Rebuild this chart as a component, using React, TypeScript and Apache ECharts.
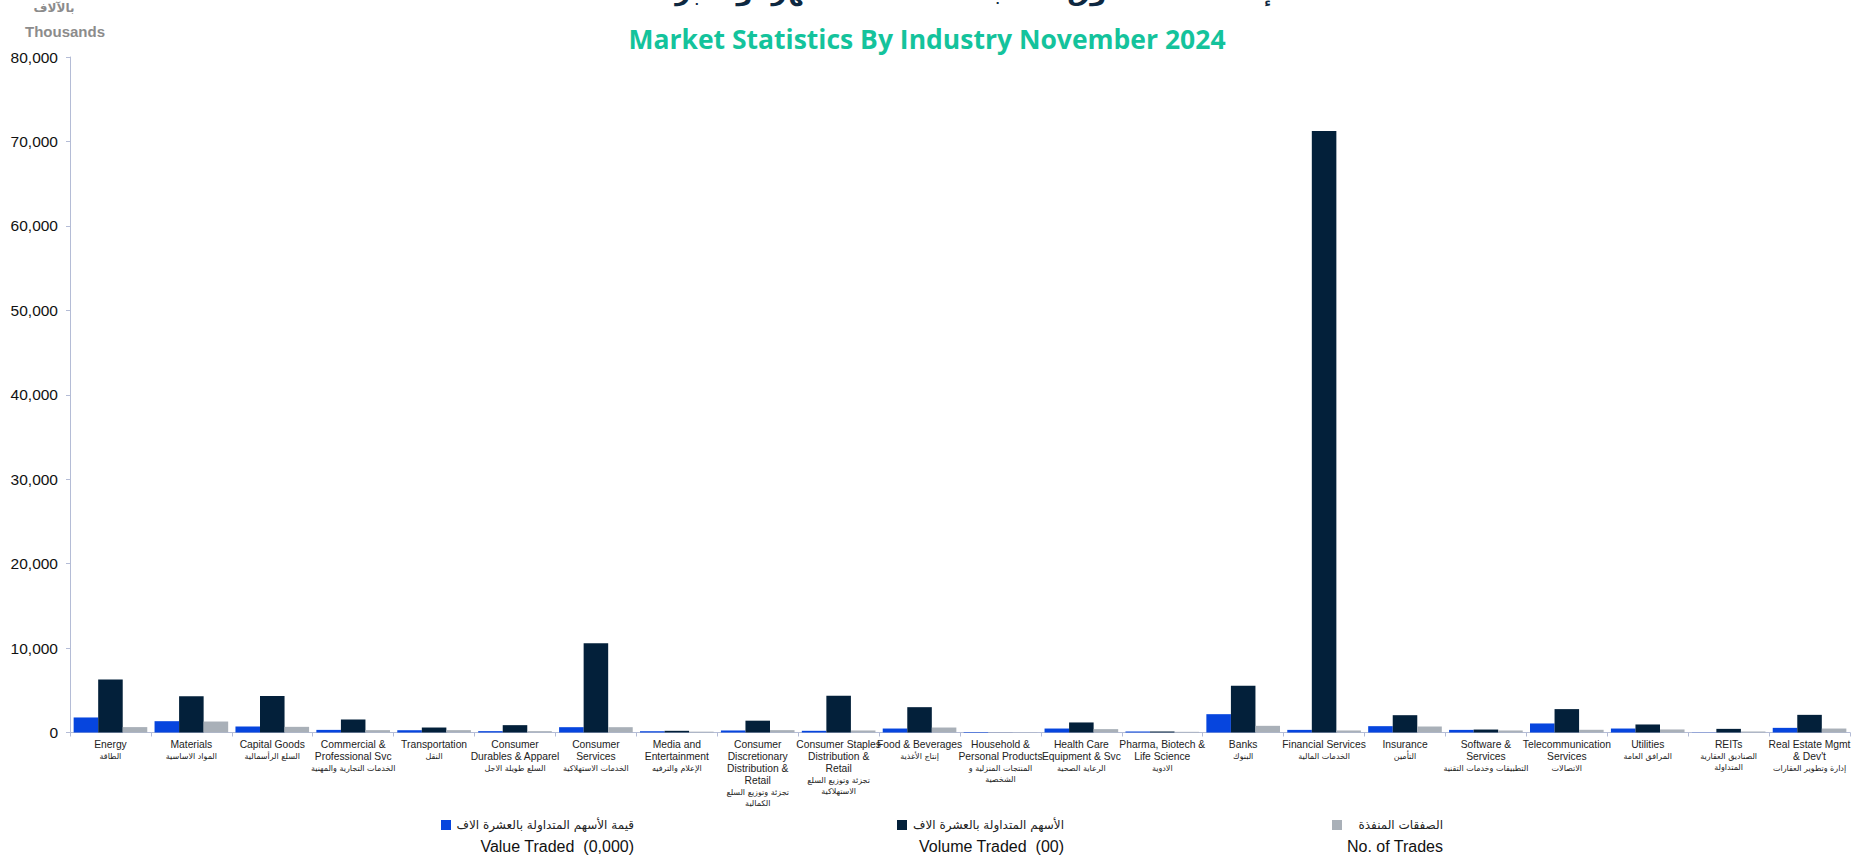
import React, { useEffect, useRef } from "react";
import * as echarts from "echarts";

const categoriesEn: string[] = [
  "Energy",
  "Materials",
  "Capital Goods",
  "Commercial &\nProfessional Svc",
  "Transportation",
  "Consumer\nDurables & Apparel",
  "Consumer\nServices",
  "Media and\nEntertainment",
  "Consumer\nDiscretionary\nDistribution &\nRetail",
  "Consumer Staples\nDistribution &\nRetail",
  "Food & Beverages",
  "Household &\nPersonal Products",
  "Health Care\nEquipment & Svc",
  "Pharma, Biotech &\nLife Science",
  "Banks",
  "Financial Services",
  "Insurance",
  "Software &\nServices",
  "Telecommunication\nServices",
  "Utilities",
  "REITs",
  "Real Estate Mgmt\n& Dev't",
];

const categoriesAr: string[] = [
  "الطاقة",
  "المواد الاساسية",
  "السلع الرأسمالية",
  "الخدمات التجارية والمهنية",
  "النقل",
  "السلع طويلة الاجل",
  "الخدمات الاستهلاكية",
  "الإعلام والترفيه",
  "تجزئة وتوزيع السلع\nالكمالية",
  "تجزئة وتوزيع السلع\nالاستهلاكية",
  "إنتاج الأغذية",
  "المنتجات المنزلية و\nالشخصية",
  "الرعاية الصحية",
  "الادوية",
  "البنوك",
  "الخدمات المالية",
  "التأمين",
  "التطبيقات وخدمات التقنية",
  "الاتصالات",
  "المرافق العامة",
  "الصناديق العقارية\nالمتداولة",
  "إدارة وتطوير العقارات",
];

const valueTraded: number[] = [
  1780, 1340, 710, 310, 270, 160, 630, 150, 240, 200, 470, 60, 470, 120,
  2170, 310, 750, 310, 1070, 470, 20, 550,
];

const volumeTraded: number[] = [
  6270, 4300, 4330, 1540, 590, 870, 10560, 200, 1400, 4340, 3000, 10, 1190,
  120, 5530, 71250, 2050, 350, 2770, 950, 430, 2090,
];

const noOfTrades: number[] = [
  640, 1300, 670, 280, 280, 160, 630, 100, 280, 240, 590, 30, 400, 80, 790,
  240, 710, 240, 320, 360, 120, 470,
];

const seriesNamesAr: string[] = [
  "قيمة الأسهم المتداولة بالعشرة الاف",
  "الأسهم المتداولة بالعشرة الاف",
  "الصفقات المنفذة",
];
const seriesNamesEn: string[] = [
  "Value Traded  (0,000)",
  "Volume Traded  (00)",
  "No. of Trades",
];

const yTicks = { min: 0, max: 80000, interval: 10000 };

const titleEn = "Market Statistics By Industry November 2024";
const titleAr = "إحصاءات السوق حسب القطاعات لشهر نوفمبر 2024";

const colors = ["#0645DE", "#03203A", "#A9B0B8"];

export default function App() {
  const ref = useRef<HTMLDivElement>(null);

  useEffect(() => {
    if (!ref.current) return;
    const chart = echarts.init(ref.current, undefined, { renderer: "svg" });

    const legendX = [634, 1064, 1443];
    const legendGraphics: any[] = [];
    seriesNamesAr.forEach((ar, i) => {
      legendGraphics.push({
        type: "text",
        x: legendX[i],
        y: 825,
        style: {
          text: ar,
          fill: "#222",
          font: "12px 'DejaVu Sans', sans-serif",
          textAlign: "right",
          textVerticalAlign: "middle",
        },
      });
      legendGraphics.push({
        type: "text",
        x: legendX[i],
        y: 846,
        style: {
          text: seriesNamesEn[i],
          fill: "#111",
          font: "16px 'Liberation Sans', Arial, sans-serif",
          textAlign: "right",
          textVerticalAlign: "middle",
        },
      });
    });
    const squareX = [441, 897, 1332];
    squareX.forEach((sx, i) => {
      legendGraphics.push({
        type: "rect",
        shape: { x: sx, y: 820, width: 10, height: 10 },
        style: { fill: colors[i] },
      });
    });

    const option: any = {
      animation: false,
      backgroundColor: "#ffffff",
      color: colors,
      grid: { left: 70, right: 4, top: 57, bottom: 122.5, containLabel: false },
      xAxis: {
        type: "category",
        data: categoriesEn,
        boundaryGap: true,
        axisLine: { lineStyle: { color: "#B4BCD6", width: 1 } },
        axisTick: { show: true, length: 4, lineStyle: { color: "#B4BCD6" } },
        axisLabel: {
          interval: 0,
          margin: 6,
          formatter: (v: string, idx: number) =>
            `{en|${v}}\n{ar|${categoriesAr[idx]}}`,
          rich: {
            en: {
              fontFamily: "'Liberation Sans', Arial, sans-serif",
              fontSize: 10.3,
              lineHeight: 12,
              color: "#222",
              align: "center",
            },
            ar: {
              fontFamily: "'DejaVu Sans', sans-serif",
              fontSize: 8,
              lineHeight: 11,
              color: "#222",
              align: "center",
            },
          },
        },
        splitLine: { show: false },
      },
      yAxis: {
        type: "value",
        min: yTicks.min,
        max: yTicks.max,
        interval: yTicks.interval,
        axisLine: { show: true, lineStyle: { color: "#B4BCD6", width: 1 } },
        axisTick: { show: true, length: 4, lineStyle: { color: "#B4BCD6" } },
        splitLine: { show: false },
        axisLabel: {
          margin: 12,
          color: "#111",
          fontSize: 15.5,
          fontFamily: "'Liberation Sans', Arial, sans-serif",
          formatter: (v: number) => v.toLocaleString("en-US"),
        },
      },
      series: [
        {
          name: seriesNamesEn[0],
          type: "bar",
          data: valueTraded,
          barGap: "0%",
          barCategoryGap: "9%",
        },
        {
          name: seriesNamesEn[1],
          type: "bar",
          data: volumeTraded,
          barGap: "0%",
          barCategoryGap: "9%",
        },
        {
          name: seriesNamesEn[2],
          type: "bar",
          data: noOfTrades,
          barGap: "0%",
          barCategoryGap: "9%",
        },
      ],
      graphic: [
        {
          type: "text",
          x: 933,
          y: -9,
          style: {
            text: titleAr,
            fill: "#0E2841",
            font: "bold 26px 'DejaVu Sans', sans-serif",
            textAlign: "center",
            textVerticalAlign: "middle",
          },
        },
        {
          type: "text",
          x: 927,
          y: 39,
          style: {
            text: titleEn,
            fill: "#14C39C",
            font: "bold 26.5px 'Open Sans', 'Noto Sans', sans-serif",
            textAlign: "center",
            textVerticalAlign: "middle",
          },
        },
        {
          type: "text",
          x: 54,
          y: 8,
          style: {
            text: "بالآلاف",
            fill: "#8C8C8C",
            font: "bold 12px 'DejaVu Sans', sans-serif",
            textAlign: "center",
            textVerticalAlign: "middle",
          },
        },
        {
          type: "text",
          x: 65,
          y: 31,
          style: {
            text: "Thousands",
            fill: "#8C8C8C",
            font: "bold 15px 'Liberation Sans', Arial, sans-serif",
            textAlign: "center",
            textVerticalAlign: "middle",
          },
        },
        ...legendGraphics,
      ],
    };

    chart.setOption(option);
    return () => chart.dispose();
  }, []);

  return (
    <div
      ref={ref}
      style={{
        position: "fixed",
        left: 0,
        top: 0,
        width: 1854,
        height: 855,
        background: "#fff",
      }}
    />
  );
}
